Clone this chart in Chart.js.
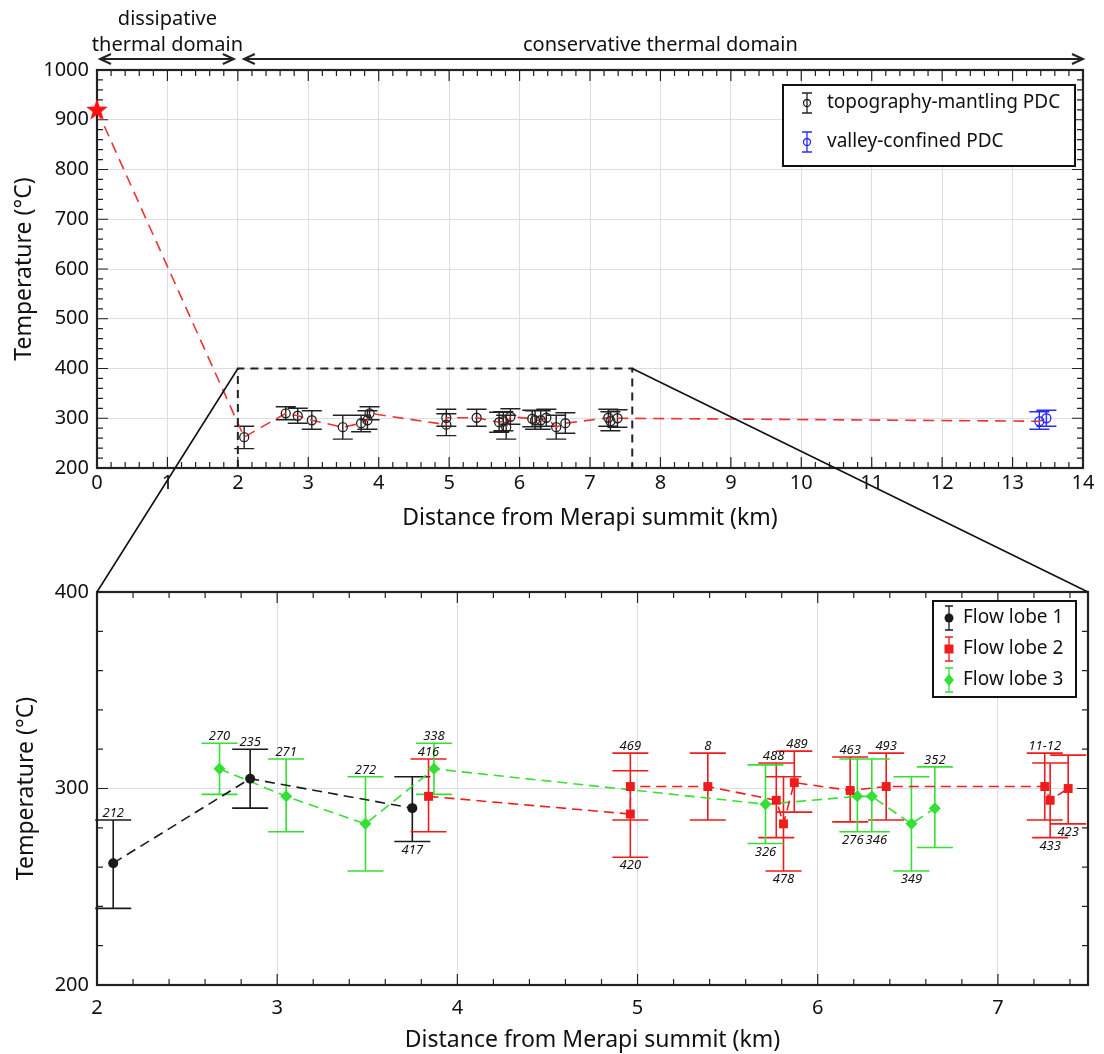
<!DOCTYPE html>
<html>
<head>
<meta charset="utf-8">
<script src="https://cdn.jsdelivr.net/npm/chart.js@4.4.1/dist/chart.umd.min.js"></script>
<style>
  html, body { margin: 0; padding: 0; background: #fff; }
  #wrap { position: relative; width: 1104px; height: 1054px; }
  #topChart { position: absolute; left: 0; top: 0; }
  #zoomChart { position: absolute; left: 0; top: 540px; }
  #overlay { position: absolute; left: 0; top: 0; pointer-events: none; }
</style>
</head>
<body>
<div id="wrap">
  <canvas id="topChart" width="1104" height="540"></canvas>
  <canvas id="zoomChart" width="1104" height="514"></canvas>
  <canvas id="overlay" width="1104" height="1054"></canvas>
</div>
<script>
// ---- data ----
// flow lobe 1
const lobe1Dist = [2.09, 2.85, 3.75];
const lobe1Temp = [262, 305, 290];
const lobe1Low  = [239, 290, 273];
const lobe1High = [284, 320, 306];
const lobe1Ids  = ['212', '235', '417'];
const lobe1IdSide = ['up', 'up', 'down'];

// flow lobe 2
const lobe2Dist = [3.84, 4.96, 4.96, 5.39, 5.77, 5.81, 5.87, 6.18, 6.38, 7.26, 7.29, 7.39];
const lobe2Temp = [296, 287, 301, 301, 294, 282, 303, 299, 301, 301, 294, 300];
const lobe2Low  = [278, 265, 284, 284, 275, 258, 288, 283, 284, 284, 275, 282];
const lobe2High = [315, 309, 318, 318, 313, 306, 319, 316, 318, 318, 313, 317];
const lobe2Ids  = ['416', '420', '469', '8', '488', '478', '489', '463', '493', '11-12', '433', '423'];
const lobe2IdSide = ['up', 'down', 'up', 'up', 'up', 'down', 'up', 'up', 'up', 'up', 'down', 'down'];

// flow lobe 3
const lobe3Dist = [2.68, 3.05, 3.49, 3.87, 5.71, 6.22, 6.30, 6.52, 6.65];
const lobe3Temp = [310, 296, 282, 310, 292, 296, 296, 282, 290];
const lobe3Low  = [297, 278, 258, 297, 272, 278, 278, 258, 270];
const lobe3High = [323, 315, 306, 323, 312, 315, 315, 306, 311];
const lobe3Ids  = ['270', '271', '272', '338', '326', '276', '346', '349', '352'];
const lobe3IdSide = ['up', 'up', 'up', 'up', 'down', 'down', 'down', 'down', 'up'];

// valley-confined PDC
const valleyDist = [13.38, 13.48];
const valleyTemp = [294, 300];
const valleyLow  = [278, 284];
const valleyHigh = [313, 316];

// vent (star)
const ventDist = [0];
const ventTemp = [920];

// zoom window shown in the lower panel
const zoomDist = [2, 7.6];
const zoomTemp = [200, 400];

const domainLabels = ['dissipative', 'thermal domain', 'conservative thermal domain'];
const domainBreak = 2;

const FONT = "'Noto Sans', 'DejaVu Sans', sans-serif";
Chart.defaults.font.family = FONT;
Chart.defaults.color = '#111';

function pts(xs, ys) { return xs.map((x, i) => ({ x: x, y: ys[i] })); }

// all topography-mantling samples, for the upper panel
const mantling = [];
[[lobe1Dist, lobe1Temp, lobe1Low, lobe1High],
 [lobe2Dist, lobe2Temp, lobe2Low, lobe2High],
 [lobe3Dist, lobe3Temp, lobe3Low, lobe3High]].forEach(function (s) {
  s[0].forEach(function (d, i) { mantling.push({ x: d, y: s[1][i], lo: s[2][i], hi: s[3][i] }); });
});
mantling.sort((a, b) => a.x - b.x);
const trend = pts(ventDist, ventTemp).concat(mantling.map(p => ({ x: p.x, y: p.y })), pts(valleyDist, valleyTemp));

// filled red star marker
const star = document.createElement('canvas');
star.width = 24; star.height = 24;
(function () {
  const c = star.getContext('2d');
  c.fillStyle = '#ff1010';
  c.beginPath();
  for (let k = 0; k < 10; k++) {
    const r = k % 2 ? 4.6 : 11.5;
    const a = -Math.PI / 2 + k * Math.PI / 5;
    c.lineTo(12 + r * Math.cos(a), 12.5 + r * Math.sin(a));
  }
  c.closePath();
  c.fill();
})();

// ---- plugins ----
const axesFrame = {
  id: 'axesFrame',
  beforeDatasetsDraw(chart, args, o) {
    const { ctx, chartArea: a, scales: { x, y } } = chart;
    ctx.save();
    ctx.strokeStyle = '#222';
    ctx.lineWidth = 1.2;
    ctx.beginPath();
    const nx = Math.floor((x.max - x.min) / o.minorX + 1e-6);
    for (let k = 0; k <= nx; k++) {
      const v = x.min + k * o.minorX;
      const px = x.getPixelForValue(v);
      const len = Math.abs(v / o.majorX - Math.round(v / o.majorX)) < 1e-6 ? 11 : 6;
      ctx.moveTo(px, a.bottom); ctx.lineTo(px, a.bottom - len);
      ctx.moveTo(px, a.top); ctx.lineTo(px, a.top + len);
    }
    const ny = Math.floor((y.max - y.min) / o.minorY + 1e-6);
    for (let k = 0; k <= ny; k++) {
      const v = y.min + k * o.minorY;
      const py = y.getPixelForValue(v);
      const len = Math.abs(v / o.majorY - Math.round(v / o.majorY)) < 1e-6 ? 11 : 6;
      ctx.moveTo(a.left, py); ctx.lineTo(a.left + len, py);
      ctx.moveTo(a.right, py); ctx.lineTo(a.right - len, py);
    }
    ctx.stroke();
    ctx.lineWidth = 2.2;
    ctx.strokeRect(a.left, a.top, a.width, a.height);
    ctx.restore();
  }
};

const errorBars = {
  id: 'errorBars',
  beforeDatasetsDraw(chart) {
    const { ctx, scales: { x, y } } = chart;
    chart.data.datasets.forEach(function (ds) {
      if (!ds.errLow) return;
      ctx.save();
      ctx.strokeStyle = ds.errColor;
      ctx.lineWidth = ds.errWidth;
      ctx.beginPath();
      ds.data.forEach(function (p, i) {
        const px = x.getPixelForValue(p.x);
        const lo = y.getPixelForValue(ds.errLow[i]);
        const hi = y.getPixelForValue(ds.errHigh[i]);
        const hw = ds.capWidth / 2;
        ctx.moveTo(px, lo); ctx.lineTo(px, hi);
        ctx.moveTo(px - hw, lo); ctx.lineTo(px + hw, lo);
        ctx.moveTo(px - hw, hi); ctx.lineTo(px + hw, hi);
      });
      ctx.stroke();
      ctx.restore();
    });
  }
};

// sample numbers next to the error bars; neighbours that would overlap get pushed apart
const sampleIds = {
  id: 'sampleIds',
  afterDatasetsDraw(chart) {
    const { ctx, scales: { x, y } } = chart;
    ctx.save();
    ctx.fillStyle = '#111';
    ctx.font = 'italic 13px ' + FONT;
    ctx.textAlign = 'center';
    const tags = [];
    chart.data.datasets.forEach(function (ds) {
      if (!ds.ids) return;
      ds.data.forEach(function (p, i) {
        const up = ds.idSide[i] === 'up';
        tags.push({
          text: ds.ids[i], up: up, x: x.getPixelForValue(p.x),
          y: up ? y.getPixelForValue(ds.errHigh[i]) - 3 : y.getPixelForValue(ds.errLow[i]) + 2,
          w: ctx.measureText(ds.ids[i]).width
        });
      });
    });
    tags.sort((a, b) => a.x - b.x);
    for (let pass = 0; pass < 4; pass++) {
      for (let i = 0; i < tags.length; i++) {
        for (let j = i + 1; j < tags.length; j++) {
          const a = tags[i], b = tags[j];
          if (a.up !== b.up || Math.abs(a.y - b.y) > 12) continue;
          const gap = (a.w + b.w) / 2 + 2 - (b.x - a.x);
          if (gap > 0) { a.x -= gap / 2; b.x += gap / 2; }
        }
      }
    }
    tags.forEach(function (t) {
      ctx.textBaseline = t.up ? 'alphabetic' : 'top';
      ctx.fillText(t.text, t.x, t.y);
    });
    ctx.restore();
  }
};

function drawMarker(ctx, kind, x, y, color) {
  ctx.save();
  ctx.fillStyle = color;
  ctx.strokeStyle = color;
  ctx.lineWidth = 1.3;
  ctx.beginPath();
  if (kind === 'ring') {
    ctx.arc(x, y, 3.5, 0, Math.PI * 2); ctx.stroke();
  } else if (kind === 'circle') {
    ctx.arc(x, y, 4.5, 0, Math.PI * 2); ctx.fill();
  } else if (kind === 'rect') {
    ctx.rect(x - 4.5, y - 4.5, 9, 9); ctx.fill();
  } else if (kind === 'diamond') {
    ctx.moveTo(x, y - 6); ctx.lineTo(x + 5, y); ctx.lineTo(x, y + 6); ctx.lineTo(x - 5, y); ctx.closePath(); ctx.fill();
  }
  ctx.restore();
}

const boxLegend = {
  id: 'boxLegend',
  afterDraw(chart, args, o) {
    const ctx = chart.ctx;
    ctx.save();
    ctx.fillStyle = '#fff';
    ctx.fillRect(o.left, o.top, o.width, o.height);
    ctx.strokeStyle = '#111';
    ctx.lineWidth = 2;
    ctx.strokeRect(o.left, o.top, o.width, o.height);
    ctx.font = o.fontSize + 'px ' + FONT;
    ctx.textBaseline = 'middle';
    ctx.textAlign = 'left';
    o.items.forEach(function (idx, r) {
      const ds = chart.data.datasets[idx];
      const cy = o.top + o.firstRow + r * o.rowGap;
      const ix = o.left + o.iconX;
      ctx.strokeStyle = ds.errColor;
      ctx.lineWidth = 1.3;
      ctx.beginPath();
      ctx.moveTo(ix, cy - o.iconH); ctx.lineTo(ix, cy + o.iconH);
      ctx.moveTo(ix - o.iconCap, cy - o.iconH); ctx.lineTo(ix + o.iconCap, cy - o.iconH);
      ctx.moveTo(ix - o.iconCap, cy + o.iconH); ctx.lineTo(ix + o.iconCap, cy + o.iconH);
      ctx.stroke();
      drawMarker(ctx, ds.legendMarker, ix, cy, ds.legendColor);
      ctx.fillStyle = '#111';
      ctx.fillText(ds.label, o.left + o.textX, cy);
    });
    ctx.restore();
  }
};

function arrowHead(ctx, x, y, dir) {
  ctx.moveTo(x + dir * 11, y - 5);
  ctx.lineTo(x, y);
  ctx.lineTo(x + dir * 11, y + 5);
}

const domains = {
  id: 'domains',
  afterDatasetsDraw(chart) {
    const { ctx, scales: { x, y } } = chart;
    ctx.save();
    // dashed zoom window
    ctx.strokeStyle = '#222';
    ctx.lineWidth = 2;
    ctx.setLineDash([8, 6]);
    const x0 = x.getPixelForValue(zoomDist[0]), x1 = x.getPixelForValue(zoomDist[1]);
    const y0 = y.getPixelForValue(zoomTemp[0]), y1 = y.getPixelForValue(zoomTemp[1]);
    ctx.beginPath();
    ctx.moveTo(x0, y0); ctx.lineTo(x0, y1); ctx.lineTo(x1, y1); ctx.lineTo(x1, y0);
    ctx.stroke();
    ctx.setLineDash([]);
    ctx.restore();
  },
  afterDraw(chart) {
    const { ctx, chartArea: a, scales: { x } } = chart;
    ctx.save();
    const ay = a.top - 11;
    const xa = x.getPixelForValue(x.min), xb = x.getPixelForValue(domainBreak), xc = x.getPixelForValue(x.max);
    ctx.strokeStyle = '#222';
    ctx.lineWidth = 2;
    ctx.beginPath();
    ctx.moveTo(xa + 3, ay); ctx.lineTo(xb - 4, ay);
    arrowHead(ctx, xa + 3, ay, 1);
    arrowHead(ctx, xb - 4, ay, -1);
    ctx.moveTo(xb + 6, ay); ctx.lineTo(xc, ay);
    arrowHead(ctx, xb + 6, ay, 1);
    arrowHead(ctx, xc, ay, -1);
    ctx.stroke();
    ctx.fillStyle = '#111';
    ctx.font = '20px ' + FONT;
    ctx.textAlign = 'center';
    ctx.textBaseline = 'middle';
    const m1 = x.getPixelForValue((x.min + domainBreak) / 2);
    const m2 = x.getPixelForValue((domainBreak + x.max) / 2);
    ctx.fillText(domainLabels[0], m1, 19);
    ctx.fillText(domainLabels[1], m1, 45);
    ctx.fillText(domainLabels[2], m2, 45);
    ctx.restore();
  }
};

function axisX(min, max, height, tickPad, titlePadBottom) {
  return {
    type: 'linear', min: min, max: max,
    afterFit: s => { s.height = height; },
    grid: { color: '#dedede', lineWidth: 1, drawTicks: false },
    border: { display: false },
    ticks: { stepSize: 1, includeBounds: false, autoSkip: false, maxRotation: 0, padding: tickPad, font: { size: 20 }, color: '#111',
             callback: v => String(v) },
    title: { display: true, text: 'Distance from Merapi summit (km)', font: { size: 23 }, color: '#111', padding: { top: 0, bottom: titlePadBottom } }
  };
}
function axisY(min, max, step, titlePadTop) {
  return {
    type: 'linear', min: min, max: max,
    afterFit: s => { s.width = 97; },
    grid: { color: '#dedede', lineWidth: 1, drawTicks: false },
    border: { display: false },
    ticks: { stepSize: step, padding: 8, font: { size: 20 }, color: '#111', callback: v => String(v) },
    title: { display: true, text: 'Temperature (°C)', font: { size: 23 }, color: '#111', padding: { top: titlePadTop, bottom: 0 } }
  };
}

// ---- upper panel ----
const topChart = new Chart(document.getElementById('topChart'), {
  type: 'scatter',
  data: {
    datasets: [
      {
        label: 'vent', data: pts(ventDist, ventTemp), order: 0, clip: false,
        pointStyle: star, pointRadius: 12, showLine: false
      },
      {
        label: 'topography-mantling PDC', data: mantling.map(p => ({ x: p.x, y: p.y })), order: 1,
        pointStyle: 'circle', pointRadius: 4.5, pointBorderWidth: 1.3,
        pointBorderColor: '#222', pointBackgroundColor: 'rgba(0,0,0,0)', showLine: false,
        errLow: mantling.map(p => p.lo), errHigh: mantling.map(p => p.hi),
        errColor: '#222', errWidth: 1.4, capWidth: 20,
        legendMarker: 'ring', legendColor: '#222'
      },
      {
        label: 'valley-confined PDC', data: pts(valleyDist, valleyTemp), order: 1,
        pointStyle: 'circle', pointRadius: 4.5, pointBorderWidth: 1.3,
        pointBorderColor: '#2a2aff', pointBackgroundColor: 'rgba(0,0,0,0)', showLine: false,
        errLow: valleyLow, errHigh: valleyHigh,
        errColor: '#2a2aff', errWidth: 1.4, capWidth: 20,
        legendMarker: 'ring', legendColor: '#2a2aff'
      },
      {
        label: 'trend', data: trend, order: 3, showLine: true, pointRadius: 0,
        borderColor: '#ec3434', borderWidth: 1.6, borderDash: [11, 7]
      }
    ]
  },
  options: {
    responsive: false,
    animation: false,
    devicePixelRatio: 1,
    layout: { padding: { top: 70, right: 21, left: 0, bottom: 0 } },
    scales: {
      x: axisX(0, 14, 72, 3, 8),
      y: axisY(200, 1000, 100, 11)
    },
    plugins: {
      legend: { display: false },
      tooltip: { enabled: false },
      axesFrame: { minorX: 0.2, majorX: 1, minorY: 20, majorY: 100 },
      boxLegend: {
        left: 783, top: 85, width: 292, height: 81, fontSize: 19,
        firstRow: 18, rowGap: 39, iconX: 24, iconH: 10, iconCap: 5, textX: 44,
        items: [1, 2]
      }
    }
  },
  plugins: [axesFrame, errorBars, domains, boxLegend]
});

// ---- lower panel ----
function lobe(label, dist, temp, low, high, ids, side, color, style, radius, marker) {
  return {
    label: label, data: pts(dist, temp), showLine: true,
    borderColor: color, borderWidth: 1.6, borderDash: [10, 6],
    pointStyle: style, pointRadius: radius, pointBackgroundColor: color, pointBorderColor: color, pointBorderWidth: 0,
    errLow: low, errHigh: high, errColor: color, errWidth: 1.6, capWidth: 36,
    ids: ids, idSide: side, legendMarker: marker, legendColor: color
  };
}

const zoomChart = new Chart(document.getElementById('zoomChart'), {
  type: 'scatter',
  data: {
    datasets: [
      lobe('Flow lobe 1', lobe1Dist, lobe1Temp, lobe1Low, lobe1High, lobe1Ids, lobe1IdSide, '#1a1a1a', 'circle', 5, 'circle'),
      lobe('Flow lobe 2', lobe2Dist, lobe2Temp, lobe2Low, lobe2High, lobe2Ids, lobe2IdSide, '#ee1c1c', 'rect', 6.3, 'rect'),
      lobe('Flow lobe 3', lobe3Dist, lobe3Temp, lobe3Low, lobe3High, lobe3Ids, lobe3IdSide, '#34e034', 'rectRot', 6, 'diamond')
    ]
  },
  options: {
    responsive: false,
    animation: false,
    devicePixelRatio: 1,
    layout: { padding: { top: 52, right: 16, left: 0, bottom: 0 } },
    scales: {
      x: axisX(2, 7.5, 69, 11, 0),
      y: axisY(200, 400, 100, 13)
    },
    plugins: {
      legend: { display: false },
      tooltip: { enabled: false },
      axesFrame: { minorX: 0.2, majorX: 1, minorY: 20, majorY: 100 },
      boxLegend: {
        left: 933, top: 61, width: 143, height: 96, fontSize: 19,
        firstRow: 17, rowGap: 31, iconX: 16, iconH: 12, iconCap: 4, textX: 30,
        items: [0, 1, 2]
      }
    }
  },
  plugins: [axesFrame, errorBars, sampleIds, boxLegend]
});

// ---- lines tying the zoom window to the lower panel ----
(function () {
  const ctx = document.getElementById('overlay').getContext('2d');
  const tx = topChart.scales.x, ty = topChart.scales.y;
  const za = zoomChart.chartArea;
  const off = 540;
  ctx.strokeStyle = '#111';
  ctx.lineWidth = 1.6;
  ctx.beginPath();
  ctx.moveTo(tx.getPixelForValue(zoomDist[0]), ty.getPixelForValue(zoomTemp[1]));
  ctx.lineTo(za.left, off + za.top);
  ctx.moveTo(tx.getPixelForValue(zoomDist[1]), ty.getPixelForValue(zoomTemp[1]));
  ctx.lineTo(za.right, off + za.top);
  ctx.stroke();
})();
</script>
</body>
</html>
